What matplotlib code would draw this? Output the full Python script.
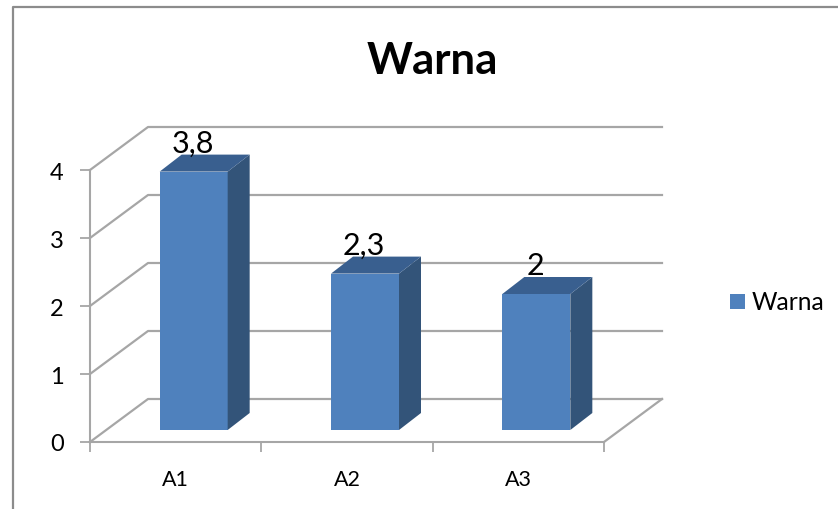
import matplotlib
matplotlib.use('Agg')
import matplotlib.pyplot as plt
from matplotlib.patches import Polygon, Rectangle

categories = ['A1', 'A2', 'A3']
values = [3.8, 2.3, 2]
value_labels = ['3,8', '2,3', '2']
y_ticks = [0, 1, 2, 3, 4]
series_name = 'Warna'

FRONT = '#4f81bd'
SIDE = '#335479'
TOP = '#395f8f'
GRID = '#a6a6a6'

W, H = 838, 510
plt.rcParams['font.family'] = ['Lato', 'DejaVu Sans']

fig = plt.figure(figsize=(W / 100, H / 100), dpi=100)
ax = fig.add_axes([90 / W, 1 - 443 / H, 514 / W, 272 / H])
ax.set_xlim(0, 3)
ax.set_ylim(0, 4)

px = 3 / 514
py = 4 / 272
# depth of the back wall and of the bars, in data units
wall_dx, wall_dy = 58 * px, 43 * py
bar_w = 68 * px
bar_dx, bar_dy = 22 * px, 17 * py
base_dx, base_dy = 18 * px, 12 * py

for sp in ['top', 'right']:
    ax.spines[sp].set_visible(False)
for sp in ['left', 'bottom']:
    ax.spines[sp].set_color(GRID)
    ax.spines[sp].set_linewidth(1.5)

ax.set_yticks(y_ticks)
ax.set_xticks(range(4))
ax.set_xticklabels([])
ax.tick_params(axis='both', color=GRID, width=1.3, length=7, labelsize=17)
ax.tick_params(axis='y', pad=12)

# back wall gridlines and the floor edges
for t in y_ticks:
    ax.plot([0, wall_dx, 3 + wall_dx], [t, t + wall_dy, t + wall_dy],
            color=GRID, lw=1.6, clip_on=False, zorder=1)
ax.plot([3, 3 + wall_dx], [0, wall_dy], color=GRID, lw=1.6, clip_on=False, zorder=1)

# bars: front face, right side and top
for i, v in enumerate(values):
    x0 = i + 0.5 - bar_w / 2 + base_dx
    x1 = x0 + bar_w
    y0 = base_dy
    y1 = base_dy + v
    ax.add_patch(Rectangle((x0, y0), bar_w, v, fc=FRONT, ec='none', clip_on=False, zorder=3))
    ax.add_patch(Polygon([(x1, y0), (x1 + bar_dx, y0 + bar_dy), (x1 + bar_dx, y1 + bar_dy), (x1, y1)],
                         fc=SIDE, ec='none', clip_on=False, zorder=3))
    ax.add_patch(Polygon([(x0, y1), (x1, y1), (x1 + bar_dx, y1 + bar_dy), (x0 + bar_dx, y1 + bar_dy)],
                         fc=TOP, ec='none', clip_on=False, zorder=3))
    ax.text((x0 + x1) / 2 - 1 * px, y1 + bar_dy + 3 * py, value_labels[i], ha='center', va='baseline',
            fontsize=22, color='black', zorder=4)
    ax.text(i + 0.5, -43 * py, categories[i], ha='center', va='baseline', fontsize=15.5, color='black')

fig.text(432 / W, 1 - 74 / H, series_name, ha='center', va='baseline', fontsize=31.5, fontweight='bold')

# legend
fig.patches.append(Rectangle((730 / W, 1 - 310 / H), 15 / W, 15 / H, transform=fig.transFigure,
                             fc=FRONT, ec='none'))
fig.text(752 / W, 1 - 310 / H, series_name, ha='left', va='baseline', fontsize=17.7)

# chart frame
fig.add_artist(plt.Line2D([13 / W, 13 / W, 1], [0, 1 - 8 / H, 1 - 8 / H],
                          color='#8c8c8c', lw=1.6))

fig.savefig('out.png', dpi=100)
